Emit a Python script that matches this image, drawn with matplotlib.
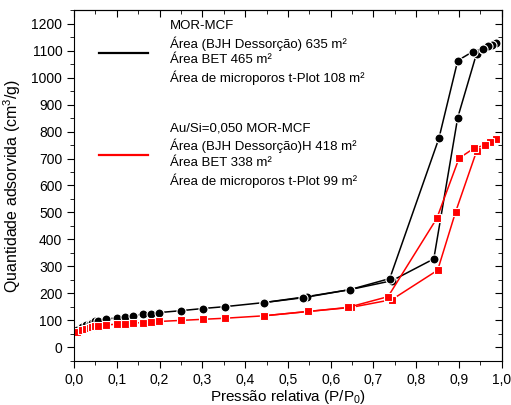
import matplotlib
matplotlib.use('Agg')
import matplotlib.pyplot as plt
from matplotlib.lines import Line2D
from matplotlib.ticker import MultipleLocator, FuncFormatter

plt.rcParams['font.family'] = ['Liberation Sans', 'DejaVu Sans']
plt.rcParams['mathtext.fontset'] = 'custom'
plt.rcParams['mathtext.rm'] = 'Liberation Sans'
plt.rcParams['mathtext.it'] = 'Liberation Sans:italic'

# MOR-MCF (preto)
p_ads1 = [0.007, 0.019, 0.028, 0.037, 0.043, 0.049, 0.056, 0.075, 0.100, 0.119, 0.138,
          0.161, 0.180, 0.199, 0.250, 0.301, 0.353, 0.444, 0.544, 0.645, 0.743, 0.841,
          0.897, 0.941, 0.956, 0.967, 0.976, 0.986]
q_ads1 = [66, 75, 83, 88, 92, 96, 99, 104, 110, 114, 118,
          122, 125, 129, 136, 144, 151, 166, 188, 214, 247, 328,
          852, 1089, 1107, 1118, 1122, 1129]
p_des1 = [0.986, 0.976, 0.967, 0.956, 0.932, 0.897, 0.853, 0.738, 0.645, 0.535, 0.444]
q_des1 = [1129, 1122, 1118, 1107, 1096, 1063, 775, 255, 214, 184, 166]

# Au/Si=0,050 MOR-MCF (vermelho)
p_ads2 = [0.007, 0.019, 0.028, 0.037, 0.043, 0.049, 0.056, 0.075, 0.100, 0.119, 0.138,
          0.161, 0.180, 0.199, 0.250, 0.301, 0.353, 0.444, 0.547, 0.647, 0.743, 0.850,
          0.892, 0.941, 0.960, 0.972, 0.986]
q_ads2 = [56, 63, 68, 72, 75, 78, 80, 83, 86, 88, 90,
          92, 94, 96, 100, 104, 108, 117, 133, 148, 177, 286,
          502, 727, 749, 760, 771]
p_des2 = [0.986, 0.972, 0.960, 0.935, 0.900, 0.848, 0.734, 0.640, 0.547, 0.444]
q_des2 = [771, 760, 749, 738, 701, 478, 188, 148, 133, 117]

label1 = ('MOR-MCF\nÁrea (BJH Dessorção) 635 m²\nÁrea BET 465 m²\n'
          'Área de microporos t-Plot 108 m²')
label2 = ('Au/Si=0,050 MOR-MCF\nÁrea (BJH Dessorção)H 418 m²\nÁrea BET 338 m²\n'
          'Área de microporos t-Plot 99 m²')

fig = plt.figure(figsize=(5.11, 4.05), dpi=100)
ax = fig.add_axes([0.145, 0.109, 0.837, 0.866])

ax.plot(p_ads1, q_ads1, '-o', color='black', lw=1.1, ms=6.5, mec='white', mew=0.8)
ax.plot(p_des1, q_des1, '-o', color='black', lw=1.1, ms=6.5, mec='white', mew=0.8)
ax.plot(p_ads2, q_ads2, '-s', color='red', lw=1.1, ms=6, mec='white', mew=0.8)
ax.plot(p_des2, q_des2, '-s', color='red', lw=1.1, ms=6, mec='white', mew=0.8)

ax.set_xlim(0, 1.0)
ax.set_ylim(-50, 1250)
ax.xaxis.set_major_locator(MultipleLocator(0.1))
ax.xaxis.set_minor_locator(MultipleLocator(0.05))
ax.yaxis.set_minor_locator(MultipleLocator(50))
ax.xaxis.set_major_formatter(FuncFormatter(lambda v, pos: f'{v:.1f}'.replace('.', ',')))
ax.set_yticks(range(0, 1201, 100))

ax.tick_params(which='both', direction='out', labelsize=10, top=False, right=False)
ax.tick_params(which='major', length=5)
ax.tick_params(which='minor', length=3)
# ticks internos no topo e à direita
sec_x = ax.secondary_xaxis('top')
sec_x.xaxis.set_major_locator(MultipleLocator(0.1))
sec_x.xaxis.set_minor_locator(MultipleLocator(0.05))
sec_x.tick_params(which='both', direction='in', labeltop=False)
sec_x.tick_params(which='major', length=5)
sec_x.tick_params(which='minor', length=3)
sec_y = ax.secondary_yaxis('right')
sec_y.yaxis.set_major_locator(MultipleLocator(100))
sec_y.yaxis.set_minor_locator(MultipleLocator(50))
sec_y.tick_params(which='both', direction='in', labelright=False)
sec_y.tick_params(which='major', length=5)
sec_y.tick_params(which='minor', length=3)

ax.set_xlabel('Pressão relativa (P/P$_0$)', fontsize=11, labelpad=1)
ax.set_ylabel('Quantidade adsorvida (cm$^3$/g)', fontsize=11.5, labelpad=6)

handles = [Line2D([], [], color='black', lw=1.6), Line2D([], [], color='red', lw=1.6)]
leg = ax.legend(handles, [label1, label2], loc='upper left', bbox_to_anchor=(0.03, 1.005),
                frameon=False, fontsize=9.5, handlelength=3.7, handletextpad=1.7,
                labelspacing=2.85)
for t in leg.get_texts():
    t.set_linespacing(1.37)

fig.savefig('out.png', dpi=100)
